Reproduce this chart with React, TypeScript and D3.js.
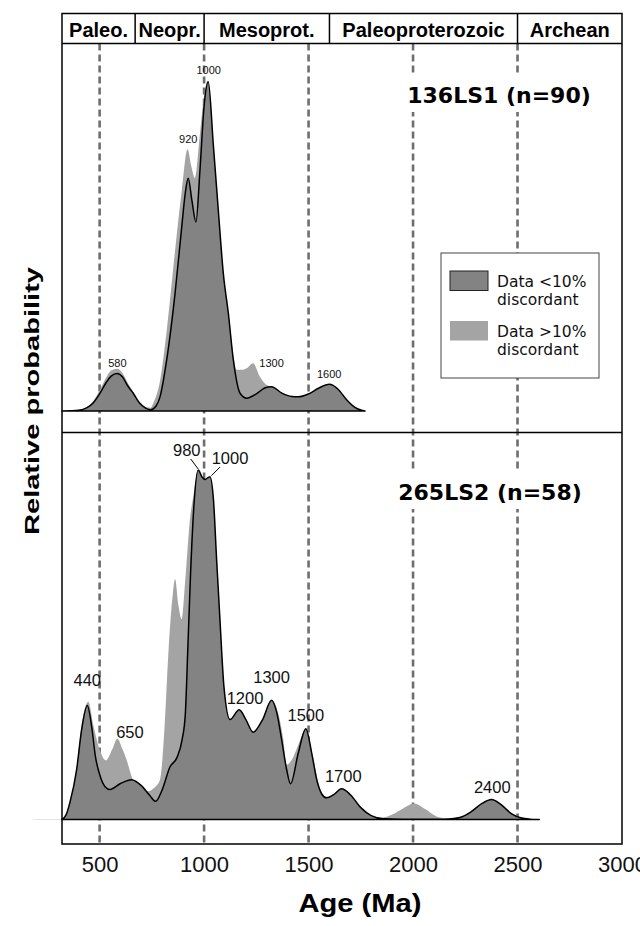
import React, { useEffect, useRef } from "react";
import * as d3 from "d3";

// age axis
const ageDomain = [320, 3000];
const tickAges = [500, 1000, 1500, 2000, 2500, 3000];
const refAges = [500, 1000, 1500, 2000, 2500];
const eraNames = ["Paleo.", "Neopr.", "Mesoprot.", "Paleoproterozoic", "Archean"];
const eraBounds = [320, 670, 1000, 1600, 2500, 3000];

// 136LS1, [age Ma, relative probability]
const topTitle = "136LS1 (n=90)";
const topConcordant: [number, number][] = [
  [320, 0], [400, 0.2], [440, 1], [470, 2.5], [502, 5.4], [530, 8.5], [555, 10.6], [584, 11.4],
  [610, 10.3], [635, 7.6], [661, 5.4], [690, 2.5], [720, 0.9], [745, 0.4], [770, 1.5], [789, 4.3],
  [821, 15.5], [861, 35.7], [893, 55.9], [910, 66.2], [924, 70.7], [942, 63.8], [961, 57.4],
  [980, 72.9], [1000, 92.6], [1020, 100], [1044, 81], [1068, 61], [1092, 41.8], [1116, 29.7],
  [1140, 15.5], [1172, 5.4], [1204, 3.9], [1250, 5.2], [1290, 7], [1323, 7.4], [1370, 5.5],
  [1420, 4.4], [1451, 4.3], [1500, 5.2], [1550, 7], [1599, 8.1], [1640, 6.7], [1680, 3.6],
  [1720, 1.2], [1750, 0.3], [1770, 0],
];
const topAll: [number, number][] = [
  [320, 0], [400, 0.3], [440, 1.2], [470, 3], [502, 6.5], [530, 10], [555, 12.3], [584, 12.8],
  [610, 11.5], [635, 8.5], [661, 5.8], [690, 2.8], [720, 1.2], [745, 1], [757, 2.4], [789, 9.1],
  [821, 24.3], [861, 48.6], [893, 66.8], [921, 79.5], [940, 74], [956, 70.7], [980, 84],
  [1000, 95.7], [1018, 100.3], [1044, 81], [1068, 61], [1092, 41.8], [1116, 29.7], [1140, 17],
  [1156, 12.5], [1180, 12.5], [1204, 13], [1235, 14.5], [1267, 10.4], [1299, 7.9], [1323, 7.4],
  [1370, 5.5], [1420, 4.4], [1451, 4.3], [1500, 5.2], [1550, 7], [1599, 8.1], [1640, 6.7],
  [1680, 3.6], [1720, 1.2], [1750, 0.3], [1770, 0],
];
const topPeaks = [
  { label: "580", age: 585, value: 13.5 },
  { label: "920", age: 924, value: 81.3 },
  { label: "1000", age: 1022, value: 102.3 },
  { label: "1300", age: 1323, value: 13.3 },
  { label: "1600", age: 1599, value: 10.1 },
];

// 265LS2
const botTitle = "265LS2 (n=58)";
const botConcordant: [number, number][] = [
  [320, 0], [340, 1.4], [358, 4.9], [390, 14.3], [414, 25.7], [441, 32.6], [462, 26.6], [480, 18],
  [502, 12.5], [526, 9.4], [550, 8.6], [600, 10.3], [653, 11.4], [700, 9.7], [740, 6.9], [768, 5.2],
  [800, 8.6], [837, 15.1], [870, 17.7], [895, 22.9], [910, 30], [922, 48.6], [935, 70], [950, 88.6],
  [972, 100], [990, 98], [1004, 97.3], [1028, 98.1], [1045, 91.4], [1060, 74.3], [1076, 57.1],
  [1095, 38], [1124, 28.6], [1168, 31.4], [1200, 28.6], [1235, 25], [1280, 28.6], [1323, 34.1],
  [1350, 30], [1371, 22.9], [1395, 14.3], [1414, 10.2], [1451, 19.1], [1487, 26], [1515, 19],
  [1539, 11.4], [1563, 7.3], [1586, 6.2], [1620, 7.1], [1658, 8.8], [1700, 7.1], [1750, 3.4],
  [1800, 1.1], [1857, 0.2], [1950, 0.1], [2050, 0.1], [2150, 0.1], [2224, 0.6], [2280, 2.3],
  [2330, 4.6], [2376, 5.7], [2420, 4.3], [2470, 1.7], [2520, 0.4], [2560, 0.1], [2604, 0],
];
const botAll: [number, number][] = [
  [320, 0], [340, 1.4], [358, 4.9], [390, 14.9], [414, 27.1], [446, 33.7], [470, 27], [500, 20],
  [530, 16.9], [560, 20], [585, 23.1], [610, 20], [629, 17.1], [655, 12], [677, 9.4], [705, 8.5],
  [733, 8.1], [760, 9], [789, 11.4], [810, 25.7], [830, 48.6], [850, 64.3], [861, 68.8], [877, 61.4],
  [893, 57.3], [910, 68.6], [932, 85.7], [950, 93], [972, 100], [990, 98], [1004, 97.3], [1028, 98.1],
  [1045, 91.4], [1060, 74.3], [1076, 57.1], [1095, 38], [1124, 28.6], [1168, 31.4], [1200, 28.6],
  [1235, 25], [1280, 28.6], [1323, 34.1], [1350, 31.4], [1379, 22.9], [1395, 15.7], [1420, 17.1],
  [1451, 21.4], [1487, 26], [1522, 17.7], [1554, 9.1], [1586, 6.3], [1620, 7.1], [1658, 8.8],
  [1700, 7.1], [1750, 3.4], [1800, 1.1], [1857, 0.6], [1900, 1.4], [1950, 3.1], [2004, 4.6],
  [2060, 2.9], [2110, 0.9], [2160, 0.3], [2224, 0.6], [2280, 2.3], [2330, 4.6], [2376, 5.7],
  [2420, 4.3], [2470, 1.7], [2520, 0.4], [2560, 0.1], [2604, 0],
];
const botPeaks = [
  { label: "440", age: 441, value: 38.1 },
  { label: "650", age: 645, value: 23.3 },
  { label: "980", age: 917, value: 104, peakAge: 972, peakValue: 100 },
  { label: "1000", age: 1124, value: 101.7, peakAge: 1028, peakValue: 98.1 },
  { label: "1200", age: 1196, value: 33.1 },
  { label: "1300", age: 1323, value: 39.1 },
  { label: "1500", age: 1487, value: 28.1 },
  { label: "1700", age: 1666, value: 10.7 },
  { label: "2400", age: 2379, value: 7.6 },
];

const legendLabels = [["Data <10%", "discordant"], ["Data >10%", "discordant"]];

const DARK = "#838383";
const LIGHT = "#a4a4a4";
const ARIAL = "'Liberation Sans', Arial, sans-serif";
const DEJAVU = "'DejaVu Sans', Verdana, sans-serif";

const W = 640, H = 926;
const left = 62, right = 622;
const headTop = 13.5, headBot = 43.5, split = 432.5, bottom = 844;

const x = d3.scaleLinear().domain(ageDomain).range([left, right]);
const yTop = d3.scaleLinear().domain([0, 100]).range([411, 81.7]);
const yBot = d3.scaleLinear().domain([0, 100]).range([819.5, 470]);

function Panel({ concordant, all, y, peaks, fs, title, titleY, titleX }) {
  const area = d3.area<[number, number]>()
    .x(d => x(d[0]))
    .y0(y(0))
    .y1(d => y(d[1]))
    .curve(d3.curveMonotoneX);
  const tw = title.length * 0.642 * 22;
  return (
    <g>
      <rect x={titleX - tw / 2 - 3} y={titleY - 28} width={tw + 6} height={37} fill="#fff" />
      <text x={titleX} y={titleY} textAnchor="middle" fontFamily={DEJAVU} fontWeight="bold" fontSize={22} fill="#000">{title}</text>
      <path d={area(all) || ""} fill={LIGHT} />
      <path d={area(concordant) || ""} fill={DARK} stroke="#000" strokeWidth={1.5} strokeLinejoin="round" />
      {peaks.map(p => (
        <g key={p.label + p.age}>
          <text x={x(p.age)} y={y(p.value)} textAnchor="middle" fontFamily={ARIAL} fontSize={fs} fill="#111">{p.label}</text>
          {p.peakAge !== undefined && (
            <line
              x1={x(p.age) + (p.peakAge > p.age ? 4 : -10)}
              y1={y(p.value) + 3}
              x2={x(p.peakAge) + (p.peakAge > p.age ? 0 : 1.5)}
              y2={y(p.peakValue) - 1}
              stroke="#000" strokeWidth={1} />
          )}
        </g>
      ))}
    </g>
  );
}

export default function App() {
  const axisRef = useRef<SVGGElement>(null);
  useEffect(() => {
    const g = d3.select(axisRef.current);
    g.call(d3.axisBottom(x).tickValues(tickAges).tickSize(0).tickPadding(12).tickFormat(d3.format("d")));
    g.select(".domain").remove();
    g.attr("font-size", 22).attr("font-family", ARIAL);
    g.selectAll("text").attr("fill", "#111");
  }, []);

  return (
    <svg width={W} height={H} style={{ position: "absolute", left: 0, top: 0, background: "#fff" }}>
      <rect x={0} y={0} width={W} height={H} fill="#fff" />
      <line x1={33} x2={left} y1={819.5} y2={819.5} stroke="#e4e4e4" strokeWidth={1} />
      {refAges.map(a => (
        <line key={a} x1={x(a)} x2={x(a)} y1={headBot} y2={bottom} stroke="#6e6e6e" strokeWidth={2.6} strokeDasharray="7,4" />
      ))}
      <Panel concordant={topConcordant} all={topAll} y={yTop} peaks={topPeaks} fs={11} title={topTitle} titleX={499} titleY={103} />
      <Panel concordant={botConcordant} all={botAll} y={yBot} peaks={botPeaks} fs={16.5} title={botTitle} titleX={490} titleY={500} />

      {/* legend */}
      <g>
        <rect x={441} y={253} width={158} height={125} fill="#fff" stroke="#444" strokeWidth={1} />
        {legendLabels.map((lines, i) => (
          <g key={i}>
            <rect x={450} y={271 + i * 50} width={38} height={19.5} fill={i === 0 ? DARK : LIGHT} stroke={i === 0 ? "#222" : "none"} strokeWidth={1} />
            {lines.map((t, j) => (
              <text key={j} x={497} y={286.5 + i * 50 + j * 18.5} fontFamily={DEJAVU} fontSize={15.5} fill="#111">{t}</text>
            ))}
          </g>
        ))}
      </g>

      {/* frame and era header */}
      <rect x={left} y={headTop} width={right - left} height={bottom - headTop} fill="none" stroke="#000" strokeWidth={1.5} />
      <line x1={left} x2={right} y1={headBot} y2={headBot} stroke="#000" strokeWidth={1.5} />
      <line x1={left} x2={right} y1={split} y2={split} stroke="#000" strokeWidth={1.5} />
      {eraNames.map((n, i) => (
        <g key={n}>
          {i > 0 && <line x1={x(eraBounds[i])} x2={x(eraBounds[i])} y1={headTop} y2={headBot} stroke="#000" strokeWidth={1.5} />}
          <text x={(x(eraBounds[i]) + x(eraBounds[i + 1])) / 2} y={36.5} textAnchor="middle" fontFamily={ARIAL} fontWeight="bold" fontSize={20} fill="#000">{n}</text>
        </g>
      ))}

      <g ref={axisRef} transform={`translate(0,${bottom})`} />
      <text x={360} y={912} textAnchor="middle" fontFamily={ARIAL} fontWeight="bold" fontSize={25} textLength={123} lengthAdjust="spacingAndGlyphs" fill="#000">Age (Ma)</text>
      <text transform="translate(39,401) rotate(-90)" textAnchor="middle" fontFamily={ARIAL} fontWeight="bold" fontSize={20} textLength={268} lengthAdjust="spacingAndGlyphs" fill="#000">Relative probability</text>
    </svg>
  );
}
